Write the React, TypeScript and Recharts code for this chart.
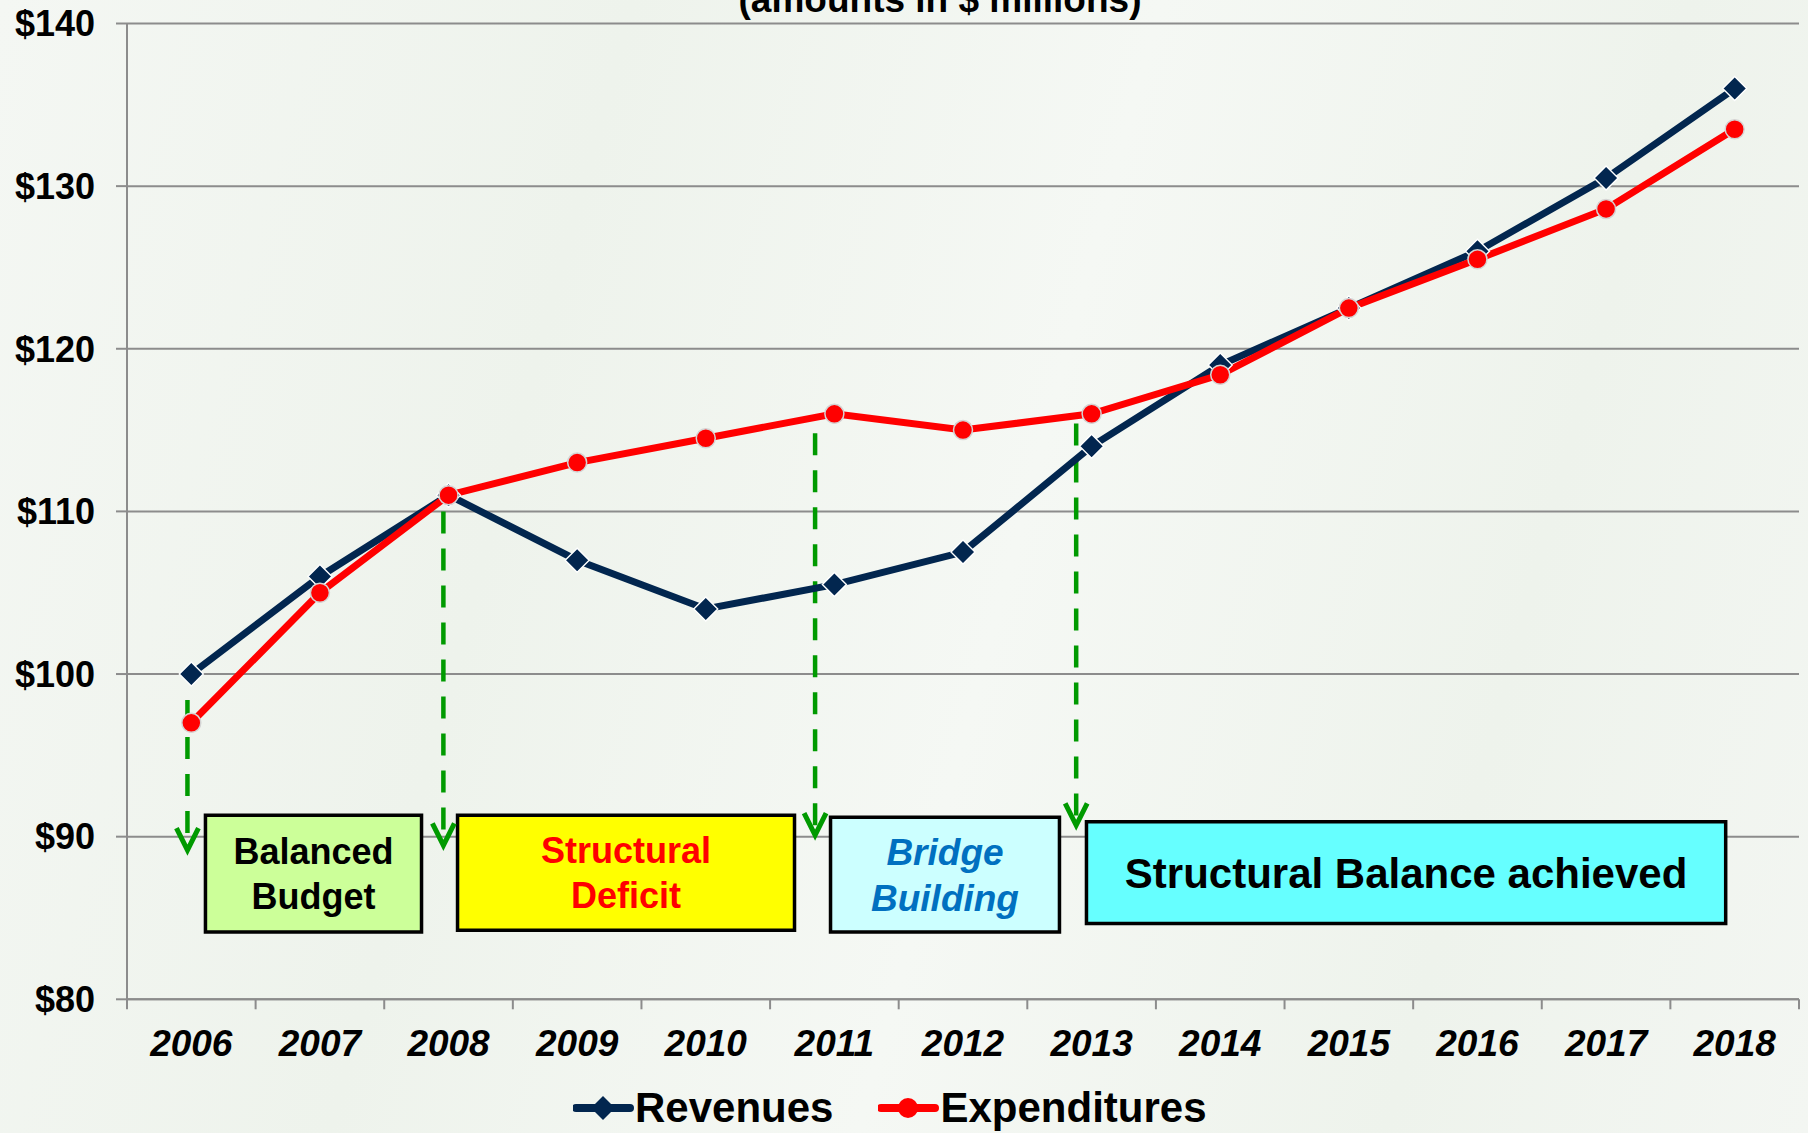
import React from "react";
import {
  LineChart,
  Line,
  XAxis,
  YAxis,
  CartesianGrid,
  ReferenceArea,
  ReferenceLine,
  Legend,
} from "recharts";

const FONT = '"Liberation Sans", Arial, sans-serif';

// values ($ millions)
const years = [2006, 2007, 2008, 2009, 2010, 2011, 2012, 2013, 2014, 2015, 2016, 2017, 2018];
const revenues = [100, 106, 111, 107, 104, 105.5, 107.5, 114, 119, 122.5, 126, 130.5, 136];
const expenditures = [97, 105, 111, 113, 114.5, 116, 115, 116, 118.4, 122.5, 125.5, 128.6, 133.5];
const yTicks = [80, 90, 100, 110, 120, 130, 140];
const yearEdges = [...years.map((y) => y - 0.5), 2018.5];

// phase boxes (in year / $ units)
const phaseNames = [["Balanced", "Budget"], ["Structural", "Deficit"], ["Bridge", "Building"], ["Structural Balance achieved"]];
const phaseX = [[2006.11, 2007.79], [2008.07, 2010.69], [2010.97, 2012.75], [2012.96, 2017.93]];
const phaseY = [[84.14, 91.32], [84.25, 91.32], [84.14, 91.2], [84.66, 90.91]];

// green dashed arrows: x position, start value, end value
const arrowX = [2005.97, 2007.96, 2010.85, 2012.88];
const arrowFrom = [98.4, 110.0, 114.8, 115.4];
const arrowTo = [89.17, 89.47, 90.1, 90.7];

const phaseStyle = [
  { fill: "#ccff99", color: "#000000", italic: false, size: 36 },
  { fill: "#ffff00", color: "#ff0000", italic: false, size: 36 },
  { fill: "#ccffff", color: "#0070c0", italic: true, size: 37 },
  { fill: "#66ffff", color: "#000000", italic: false, size: 42 },
];

const NAVY = "#02264f";
const RED = "#ff0000";
const GREEN = "#009a00";

const data = years.map((year, i) => ({ year, rev: revenues[i], exp: expenditures[i] }));

function Diamond(props: any) {
  const { cx, cy } = props;
  if (cx == null || cy == null) return null;
  const s = 12;
  return (
    <path
      d={`M${cx},${cy - s} L${cx + s},${cy} L${cx},${cy + s} L${cx - s},${cy} Z`}
      fill={NAVY}
      stroke="#ffffff"
      strokeWidth={1.4}
    />
  );
}

function Arrow(props: any) {
  const { x1, y1, x2, y2 } = props;
  return (
    <g>
      <line x1={x1} y1={y1} x2={x2} y2={y2 - 3} stroke={GREEN} strokeWidth={4.5} strokeDasharray="22 15" />
      <polyline
        points={`${x2 - 11},${y2 - 22} ${x2},${y2} ${x2 + 11},${y2 - 22}`}
        fill="none"
        stroke={GREEN}
        strokeWidth={5}
      />
    </g>
  );
}

function PhaseLabel(props: any) {
  const { viewBox, lines, color, italic, size } = props;
  if (!viewBox) return null;
  const cx = viewBox.x + viewBox.width / 2;
  const cy = viewBox.y + viewBox.height / 2;
  const lh = size * 1.25;
  return (
    <text
      textAnchor="middle"
      fill={color}
      fontSize={size}
      fontWeight={700}
      fontStyle={italic ? "italic" : "normal"}
      fontFamily={FONT}
    >
      {lines.map((l: string, i: number) => (
        <tspan key={i} x={cx} y={cy + (i - (lines.length - 1) / 2) * lh + size * 0.36}>
          {l}
        </tspan>
      ))}
    </text>
  );
}

function YearTick(props: any) {
  const { x, y, payload } = props;
  return (
    <text
      x={x}
      y={y}
      dy={47}
      textAnchor="middle"
      fontSize={37}
      fontWeight={700}
      fontStyle="italic"
      fontFamily={FONT}
      fill="#000"
    >
      {payload.value}
    </text>
  );
}

function LegendBox() {
  const item = (label: string, color: string, marker: React.ReactNode) => (
    <div style={{ display: "flex", alignItems: "center", marginRight: 45 }}>
      <svg width={62} height={30}>
        <line x1={3} y1={15} x2={57} y2={15} stroke={color} strokeWidth={8} strokeLinecap="round" />
        {marker}
      </svg>
      <span style={{ fontSize: 42, fontWeight: 700, fontFamily: FONT, color: "#000", lineHeight: 1 }}>{label}</span>
    </div>
  );
  return (
    <div style={{ display: "flex", alignItems: "center" }}>
      {item("Revenues", NAVY, <path d="M30,3 L42,15 L30,27 L18,15 Z" fill={NAVY} />)}
      {item("Expenditures", RED, <circle cx={30} cy={15} r={10} fill={RED} />)}
    </div>
  );
}

export default function App() {
  return (
    <div
      style={{
        position: "absolute",
        left: 0,
        top: 0,
        width: 1808,
        height: 1133,
        overflow: "hidden",
        background:
          "linear-gradient(105deg, #f4f7f3 0%, #eef3ec 30%, #f5f8f4 55%, #eef3ec 80%, #f3f6f2 100%)",
      }}
    >
      <div
        style={{
          position: "absolute",
          left: 0,
          width: 1880,
          top: -19,
          textAlign: "center",
          fontFamily: FONT,
          fontWeight: 700,
          fontSize: 37,
          lineHeight: 1,
          color: "#000",
        }}
      >
        (amounts in $ millions)
      </div>
      <LineChart width={1808} height={1133} data={data} margin={{ top: 23.5, right: 9, left: 0, bottom: 63.7 }}>
        <CartesianGrid horizontal vertical={false} stroke="#8c8c8c" strokeWidth={2} xAxisId="grid" />
        <XAxis
          xAxisId="grid"
          dataKey="year"
          type="number"
          domain={[2005.5, 2018.5]}
          ticks={yearEdges}
          interval={0}
          height={10}
          tickSize={10}
          tick={() => <g />}
          axisLine={{ stroke: "#8c8c8c", strokeWidth: 2 }}
          tickLine={{ stroke: "#8c8c8c", strokeWidth: 2 }}
        />
        <XAxis
          xAxisId="labels"
          dataKey="year"
          type="number"
          domain={[2005.5, 2018.5]}
          ticks={years}
          interval={0}
          height={60}
          tickSize={0}
          tickMargin={0}
          axisLine={false}
          tickLine={false}
          tick={<YearTick />}
        />
        <YAxis
          width={127}
          domain={[80, 140]}
          ticks={yTicks}
          interval={0}
          tickSize={11}
          tickMargin={21}
          tickFormatter={(v: number) => `$${v}`}
          tick={{ fontSize: 36, fontWeight: 700, fill: "#000", fontFamily: FONT }}
          axisLine={{ stroke: "#8c8c8c", strokeWidth: 2 }}
          tickLine={{ stroke: "#8c8c8c", strokeWidth: 2 }}
        />
        {phaseNames.map((lines, i) => (
          <ReferenceArea
            key={`p${i}`}
            xAxisId="grid"
            x1={phaseX[i][0]}
            x2={phaseX[i][1]}
            y1={phaseY[i][0]}
            y2={phaseY[i][1]}
            fill={phaseStyle[i].fill}
            fillOpacity={1}
            stroke="#000"
            strokeWidth={3.5}
            label={<PhaseLabel lines={lines} {...phaseStyle[i]} />}
          />
        ))}
        {arrowX.map((x, i) => (
          <ReferenceLine
            key={`a${i}`}
            xAxisId="grid"
            segment={[
              { x, y: arrowFrom[i] },
              { x, y: arrowTo[i] },
            ]}
            shape={<Arrow />}
          />
        ))}
        <Line
          xAxisId="grid"
          dataKey="rev"
          name="Revenues"
          stroke={NAVY}
          strokeWidth={7}
          dot={<Diamond />}
          activeDot={false}
          isAnimationActive={false}
        />
        <Line
          xAxisId="grid"
          dataKey="exp"
          name="Expenditures"
          stroke={RED}
          strokeWidth={7}
          dot={{ r: 9.5, fill: RED, stroke: "#d4d4d4", strokeWidth: 1.5 }}
          activeDot={false}
          isAnimationActive={false}
        />
        <Legend
          layout="horizontal"
          verticalAlign="middle"
          align="center"
          content={<LegendBox />}
          wrapperStyle={{ top: 1087, left: 573, width: 720 }}
        />
      </LineChart>
    </div>
  );
}
